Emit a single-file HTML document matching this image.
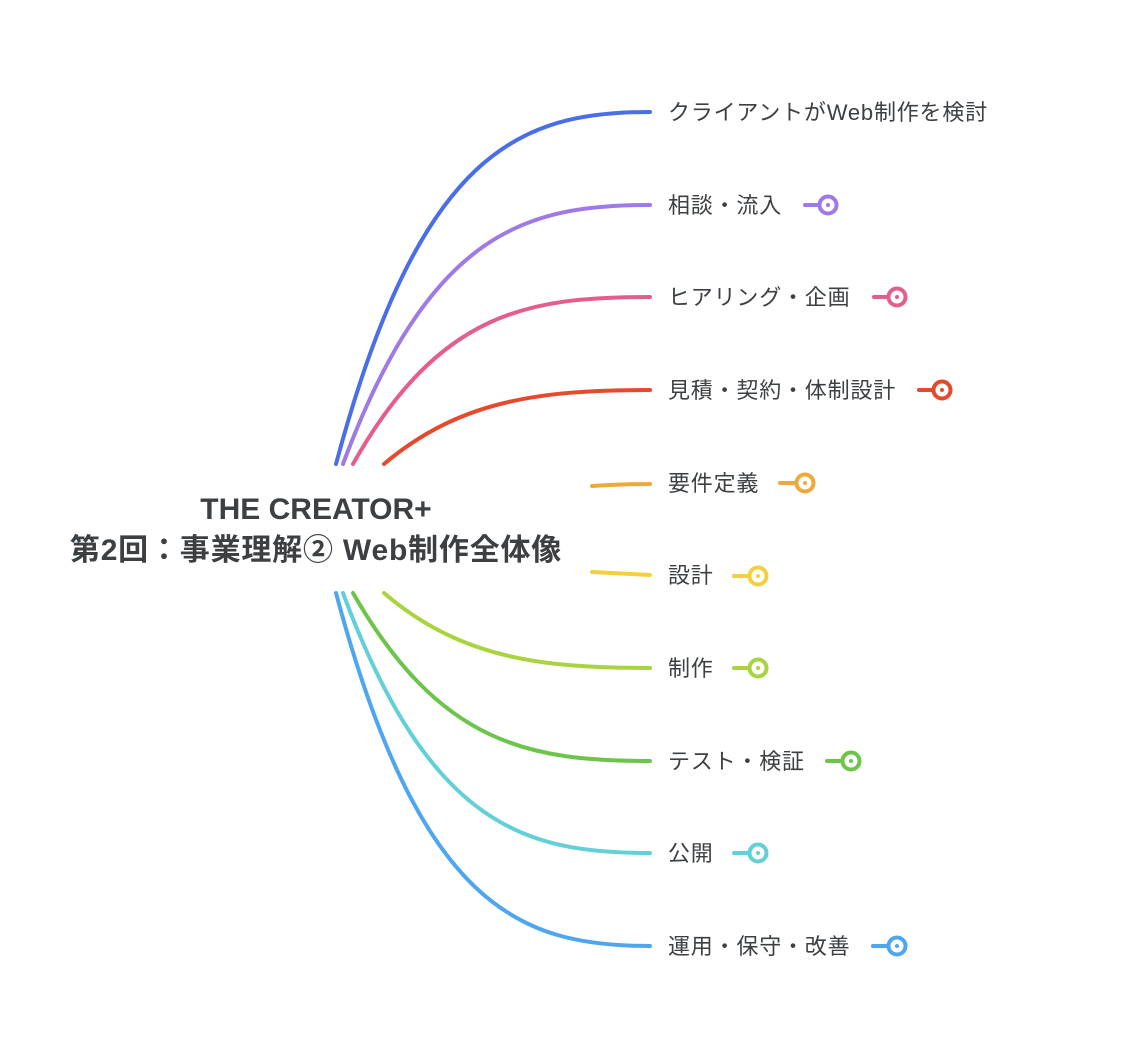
<!DOCTYPE html>
<html><head><meta charset="utf-8"><style>
html,body{margin:0;padding:0;background:#fff;width:1126px;height:1060px;overflow:hidden}
text{font-family:"Liberation Sans","Noto Sans CJK JP",sans-serif}
</style></head><body>
<svg width="1126" height="1060" viewBox="0 0 1126 1060" xmlns="http://www.w3.org/2000/svg">
<g fill="none" stroke-width="4" stroke-linecap="round">
<path d="M336 464 C420 150 520 112 650 112" stroke="#4a6ee8"/>
<path d="M343 464 C430 230 527 205 650 205" stroke="#9e7ae6"/>
<path d="M353 464 C440 310 530 297 650 297" stroke="#e55e8a"/>
<path d="M384 464 C460 400 540 390 650 390" stroke="#e54a2c"/>
<path d="M592 486 C610 485 630 484 650 484" stroke="#efa83a"/>
<path d="M592 572 C610 573 630 574 650 575" stroke="#f5cf3f"/>
<path d="M384 593 C460 658 540 668 650 668" stroke="#a9d440"/>
<path d="M353 593 C440 745 530 761 650 761" stroke="#6cc44a"/>
<path d="M343 593 C430 828 527 853 650 853" stroke="#62d0d6"/>
<path d="M336 593 C420 908 520 946 650 946" stroke="#4ea6ef"/>
</g>
<g font-size="22" letter-spacing="0.8" fill="#3c4043">
<text x="668" y="120">クライアントがWeb制作を検討</text>
<text x="668" y="213">相談・流入</text>
<text x="668" y="305">ヒアリング・企画</text>
<text x="668" y="398">見積・契約・体制設計</text>
<text x="668" y="491">要件定義</text>
<text x="668" y="583">設計</text>
<text x="668" y="676">制作</text>
<text x="668" y="769">テスト・検証</text>
<text x="668" y="861">公開</text>
<text x="668" y="954">運用・保守・改善</text>
</g>
<g stroke-width="4" stroke-linecap="round" fill="#fff">
<g stroke="#9e7ae6"><line x1="805" y1="205" x2="820" y2="205"/><circle cx="828" cy="205" r="8.5"/><circle cx="828" cy="205" r="2" fill="#9e7ae6" stroke="none"/></g>
<g stroke="#e55e8a"><line x1="874" y1="297" x2="889" y2="297"/><circle cx="897" cy="297" r="8.5"/><circle cx="897" cy="297" r="2" fill="#e55e8a" stroke="none"/></g>
<g stroke="#e54a2c"><line x1="919" y1="390" x2="934" y2="390"/><circle cx="942" cy="390" r="8.5"/><circle cx="942" cy="390" r="2" fill="#e54a2c" stroke="none"/></g>
<g stroke="#efa83a"><line x1="780" y1="483" x2="796" y2="483"/><circle cx="805" cy="483" r="8.5"/><circle cx="805" cy="483" r="2" fill="#efa83a" stroke="none"/></g>
<g stroke="#f5cf3f"><line x1="734" y1="576" x2="750" y2="576"/><circle cx="758" cy="576" r="8.5"/><circle cx="758" cy="576" r="2" fill="#f5cf3f" stroke="none"/></g>
<g stroke="#a9d440"><line x1="734" y1="668" x2="750" y2="668"/><circle cx="758" cy="668" r="8.5"/><circle cx="758" cy="668" r="2" fill="#a9d440" stroke="none"/></g>
<g stroke="#6cc44a"><line x1="827" y1="761" x2="843" y2="761"/><circle cx="851" cy="761" r="8.5"/><circle cx="851" cy="761" r="2" fill="#6cc44a" stroke="none"/></g>
<g stroke="#62d0d6"><line x1="734" y1="853" x2="750" y2="853"/><circle cx="758" cy="853" r="8.5"/><circle cx="758" cy="853" r="2" fill="#62d0d6" stroke="none"/></g>
<g stroke="#4ea6ef"><line x1="873" y1="946" x2="889" y2="946"/><circle cx="897" cy="946" r="8.5"/><circle cx="897" cy="946" r="2" fill="#4ea6ef" stroke="none"/></g>
</g>
<g font-size="30" font-weight="bold" fill="#3c4043" text-anchor="middle">
<text x="316" y="519" letter-spacing="0">THE CREATOR+</text>
<text x="316" y="560" letter-spacing="0.8">第2回：事業理解② Web制作全体像</text>
</g>
</svg>
</body></html>
